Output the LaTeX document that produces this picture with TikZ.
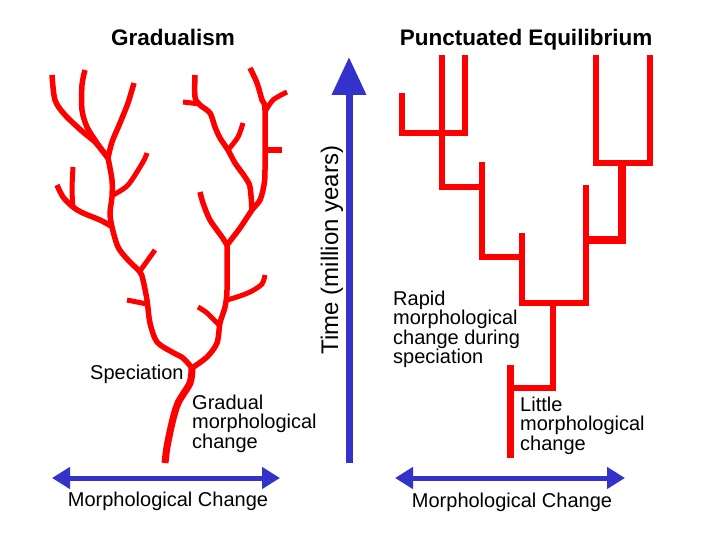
\documentclass[tikz,border=0pt]{standalone}
\usepackage{fontspec}
\setmainfont{Liberation Sans}
\usepackage{xcolor}
\definecolor{cTree}{HTML}{FF0000}
\definecolor{cAxis}{HTML}{3333CC}
\usetikzlibrary{arrows.meta,positioning}
\tikzset{
  branch/.style={draw=cTree,line width=5.5pt,line cap=butt,line join=round},
  twig/.style={branch,line width=5pt},
  trunk/.style={branch,line width=7pt},
  clade/.style={draw=cTree,line width=6pt,line cap=butt,line join=miter},
  axis-h/.style={{Triangle[length=18pt,width=21pt]}-{Triangle[length=18pt,width=21pt]},
    line width=5pt,draw=cAxis,fill=cAxis},
  axis-v/.style={-{Triangle[length=38pt,width=33pt]},line width=7pt,draw=cAxis,fill=cAxis},
  lbl/.style={font=\fontsize{20}{19.3}\selectfont,inner sep=0pt,align=left},
  ttl/.style={font=\fontsize{22.5}{24}\selectfont\bfseries,inner sep=0pt},
}

\begin{document}
\begin{tikzpicture}[x=1pt,y=-1pt]
  \useasboundingbox (0,0) rectangle (720,540);

  % titles
  \node[ttl,anchor=base] (grad-title) at (173,46) {Gradualism};
  \node[ttl,anchor=base] (punc-title) at (526,46) {Punctuated Equilibrium};

  % gradualism: trunk and left clade
  \draw[trunk] plot[smooth,tension=0.5] coordinates {(165,463) (167,447) (172,423) (178,403) (190,383) (192,368)};
  \draw[branch] plot[smooth,tension=0.5] coordinates {(192,368) (183,358) (172,352) (157,342) (150,323)
    (147,300) (143,280) (140,272) (128,260) (118,247) (112,227) (110,213) (112,197) (112,180) (108,158)};
  \draw[branch] plot[smooth,tension=0.5] coordinates {(108,158) (95,142) (83,132) (65,115) (55,100) (52,75)};
  \draw[branch] plot[smooth,tension=0.5] coordinates {(108,158) (97,143) (87,127) (82,110) (82,85) (85,70)};
  \draw[branch] plot[smooth,tension=0.5] coordinates {(108,158) (112,142) (120,123) (128,103) (134,83)};
  \draw[twig] plot[smooth,tension=0.5] coordinates {(113,195) (128,185) (143,162) (147,153)};
  \draw[branch] plot[smooth,tension=0.5] coordinates {(111,226) (100,220) (83,213) (73,207) (63,197) (57,185)};
  \draw[twig] plot[smooth,tension=0.5] coordinates {(73,207) (72,190) (73,167)};
  \draw[twig] (140,271) -- (155,250);
  \draw[twig] (147,304) -- (127,300);

  % gradualism: right clade
  \draw[branch] plot[smooth,tension=0.5] coordinates {(192,368) (207,357) (217,343) (220,323)
    (225,307) (227,290) (227,245)};
  \draw[twig] plot[smooth,tension=0.5] coordinates {(219,325) (207,313) (198,307)};
  \draw[twig] plot[smooth,tension=0.5] coordinates {(227,300) (240,296) (252,291) (262,284) (265,275)};
  \draw[branch] plot[smooth,tension=0.5] coordinates {(227,245) (222,237) (210,220) (203,203) (200,192)};
  \draw[branch] plot[smooth,tension=0.5] coordinates {(227,245) (240,228) (252,210) (260,200)
    (264,185) (265,170) (265,110) (262,100) (257,83) (250,68)};
  \draw[branch] plot[smooth,tension=0.5] coordinates {(252,210) (250,187) (245,177) (235,163) (228,150)
    (220,138) (215,127) (210,113) (200,105) (195,97) (195,75)};
  \draw[twig] plot[smooth,tension=0.5] coordinates {(228,150) (238,137) (243,123)};
  \draw[twig] (200,104) -- (183,102);
  \draw[twig] plot[smooth,tension=0.5] coordinates {(265,112) (273,100) (287,92)};
  \draw[branch,line width=6.5pt] (265,150) -- (282,150);

  % punctuated equilibrium
  \draw[clade] (402,93) -- (402,133) -- (465,133) -- (465,55);
  \draw[clade] (442,55) -- (442,187) -- (482,187);
  \draw[clade] (482,162) -- (482,257) -- (522,257);
  \draw[clade] (522,233) -- (522,303) -- (586,303) -- (586,185);
  \draw[clade] (553,303) -- (553,388) -- (510,388);
  \draw[clade,line width=7pt] (510,365) -- (510,458);
  \draw[clade] (596,55) -- (596,163) -- (650,163) -- (650,55);
  \draw[clade,line width=7.5pt] (622,163) -- (622,240) -- (586,240);

  % labels
  \node[lbl,anchor=base west] (speciation) at (90,379) {Speciation};
  \node[lbl,anchor=north west] (gradual) at (192,395) {Gradual\\morphological\\change};
  \node[lbl,anchor=north west] (rapid) at (393,291) {Rapid\\morphological\\change during\\speciation};
  \node[lbl,anchor=north west] (little) at (520,397) {Little\\morphological\\change};

  % axes
  \coordinate (grad-min) at (52,478);
  \coordinate (grad-max) at (280,478);
  \coordinate (punc-min) at (395,478);
  \coordinate (punc-max) at (625,478);
  \coordinate (time-0) at (349,463);
  \coordinate (time-1) at (349,57);
  \draw[axis-h] (grad-min) -- (grad-max);
  \draw[axis-h] (punc-min) -- (punc-max);
  \draw[axis-v] (time-0) -- (time-1);
  \node[lbl,anchor=base] (morph-l) at (168,506) {Morphological Change};
  \node[lbl,anchor=base] (morph-r) at (512,507) {Morphological Change};
  \node[font=\fontsize{24}{24}\selectfont,inner sep=0pt,rotate=90] (time) at (332,250) {Time (million years)};
\end{tikzpicture}
\end{document}
